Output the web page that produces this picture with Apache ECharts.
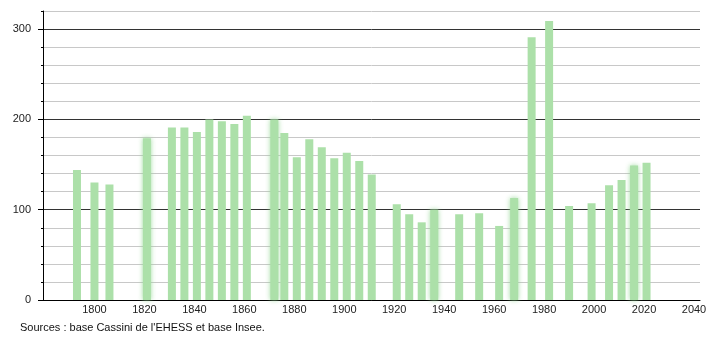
<!DOCTYPE html>
<html>
<head>
<meta charset="utf-8">
<script src="https://cdn.jsdelivr.net/npm/echarts@6/dist/echarts.min.js"></script>
<style>
html,body{margin:0;padding:0;background:#fff;}
#chart{width:710px;height:340px;}
</style>
</head>
<body>
<div id="chart"></div>
<script>
// Census years and population
const years = [1793, 1800, 1806, 1821, 1831, 1836, 1841, 1846, 1851, 1856, 1861,
  1872, 1876, 1881, 1886, 1891, 1896, 1901, 1906, 1911,
  1921, 1926, 1931, 1936, 1946, 1954, 1962, 1968, 1975, 1982, 1990, 1999,
  2006, 2011, 2016, 2021];
const population = [144, 130, 128, 179, 191, 191, 186, 200, 198, 195, 204,
  200, 185, 158, 178, 169, 157, 163, 154, 139,
  106, 95, 86, 100, 95, 96, 82, 113, 291, 309, 104, 107,
  127, 133, 149, 152];
const xTickLabels = [1800, 1820, 1840, 1860, 1880, 1900, 1920, 1940, 1960, 1980, 2000, 2020, 2040];
const yTickLabels = [0, 100, 200, 300];
const sourceText = "Sources : base Cassini de l'EHESS et base Insee.";

const softYears = [1821, 1872, 1936, 1968, 2016];
const barColor = '#ace0a9';

const chart = echarts.init(document.getElementById('chart'), null, {renderer: 'canvas'});
const font = '"Liberation Sans", Arial, sans-serif';

chart.setOption({
  animation: false,
  backgroundColor: '#fff',
  grid: {left: 43, right: 10, top: 11, bottom: 40, containLabel: false},
  graphic: [{
    type: 'text', left: 20, top: 322,
    style: {text: sourceText, fontFamily: font, fontSize: 11, fill: '#111'}
  }],
  xAxis: {
    type: 'value', min: 1779.4, max: 2042.4,
    axisLine: {show: true, onZero: false, lineStyle: {color: '#000', width: 1}},
    axisTick: {show: false},
    splitLine: {show: false},
    axisLabel: {customValues: xTickLabels, formatter: v => String(Math.round(v)),
      fontFamily: font, fontSize: 11, color: '#222', margin: 4}
  },
  yAxis: [{
    type: 'value', min: 0, max: 320, interval: 20,
    axisLine: {show: true, lineStyle: {color: '#000', width: 1}},
    axisTick: {show: true, length: 2, lineStyle: {color: '#000'}},
    axisLabel: {show: false},
    splitLine: {show: true, lineStyle: {color: ['#333', '#c8c8c8', '#c8c8c8', '#c8c8c8', '#c8c8c8'], width: 1}}
  }, {
    type: 'value', min: 0, max: 320, position: 'left',
    axisLine: {show: false},
    axisTick: {show: true, length: 5, customValues: yTickLabels, lineStyle: {color: '#000'}},
    axisLabel: {customValues: yTickLabels, formatter: v => String(Math.round(v)),
      fontFamily: font, fontSize: 11, color: '#222', margin: 12},
    splitLine: {show: false}
  }],
  series: [{
    type: 'bar',
    barWidth: 8,
    yAxisIndex: 0,
    data: years.map((y, i) => {
      const item = {value: [y, population[i]]};
      if (softYears.includes(y)) {
        item.itemStyle = {shadowBlur: 5, shadowColor: 'rgba(150,215,150,0.9)'};
      }
      return item;
    }),
    itemStyle: {color: barColor},
    z: 3
  }]
});
</script>
</body>
</html>
